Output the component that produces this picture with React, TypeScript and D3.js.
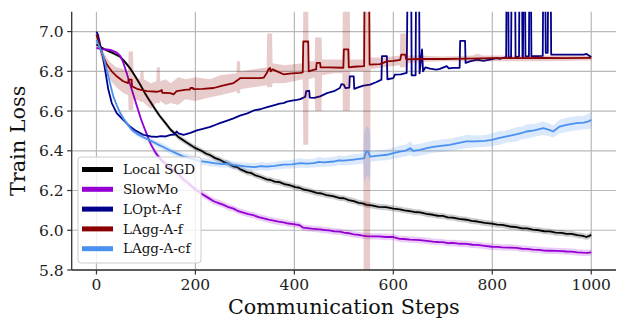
import React from 'react';
import * as d3 from 'd3';

const W = 617;
const H = 320;
const PLOT = { left: 71.7, right: 616, top: 11.7, bottom: 270 };

const xTicks = [0, 200, 400, 600, 800, 1000];
const yTicks = [5.8, 6.0, 6.2, 6.4, 6.6, 6.8, 7.0];
const xLabel = 'Communication Steps';
const yLabel = 'Train Loss';

const seriesNames = ['Local SGD', 'SlowMo', 'LOpt-A-f', 'LAgg-A-f', 'LAgg-A-cf'];
const seriesColors = ['#000000', '#9400d3', '#00008b', '#8b0000', '#4a90ee'];

// [step, mean loss, spread]
const localSgd: [number, number, number][] = [
  [0, 6.935, 0.006], [10, 6.92, 0.006], [21, 6.905, 0.007], [35, 6.89, 0.008], [48, 6.873, 0.009],
  [58, 6.846, 0.01], [68, 6.815, 0.01], [78, 6.776, 0.011], [88, 6.735, 0.012], [98, 6.69, 0.012],
  [108, 6.65, 0.012], [118, 6.612, 0.013], [128, 6.575, 0.013], [140, 6.538, 0.013], [150, 6.506, 0.013],
  [165, 6.471, 0.014], [183, 6.44, 0.014], [198, 6.416, 0.014], [212, 6.4, 0.014], [222, 6.385, 0.014],
  [230, 6.378, 0.014], [240, 6.363, 0.014], [250, 6.354, 0.015], [258, 6.343, 0.015], [265, 6.337, 0.015],
  [276, 6.322, 0.015], [284, 6.318, 0.015], [290, 6.308, 0.015], [298, 6.299, 0.015], [305, 6.291, 0.015],
  [312, 6.289, 0.015], [320, 6.278, 0.015], [332, 6.268, 0.015], [344, 6.256, 0.015], [352, 6.253, 0.015],
  [360, 6.245, 0.015], [370, 6.242, 0.015], [380, 6.232, 0.015], [390, 6.227, 0.015], [402, 6.217, 0.015],
  [410, 6.214, 0.015], [420, 6.204, 0.015], [432, 6.198, 0.015], [445, 6.188, 0.015], [455, 6.185, 0.015],
  [465, 6.177, 0.015], [478, 6.172, 0.015], [492, 6.162, 0.015], [500, 6.161, 0.015], [510, 6.152, 0.015],
  [520, 6.147, 0.015], [530, 6.138, 0.015], [538, 6.135, 0.015], [546, 6.128, 0.015], [556, 6.125, 0.015],
  [570, 6.118, 0.015], [585, 6.116, 0.015], [600, 6.109, 0.015], [613, 6.105, 0.015], [622, 6.1, 0.015],
  [630, 6.098, 0.015], [642, 6.092, 0.015], [654, 6.09, 0.015], [667, 6.082, 0.015], [680, 6.078, 0.015],
  [690, 6.073, 0.015], [700, 6.072, 0.015], [710, 6.065, 0.015], [720, 6.064, 0.015], [733, 6.057, 0.015],
  [748, 6.053, 0.015], [758, 6.047, 0.015], [770, 6.044, 0.015], [785, 6.037, 0.015], [799, 6.033, 0.015],
  [810, 6.028, 0.015], [820, 6.027, 0.015], [835, 6.019, 0.015], [849, 6.016, 0.015], [860, 6.01, 0.015],
  [870, 6.009, 0.015], [882, 6.003, 0.015], [895, 6.0, 0.015], [905, 5.995, 0.015], [916, 5.994, 0.015],
  [928, 5.988, 0.015], [940, 5.987, 0.015], [950, 5.982, 0.015], [960, 5.982, 0.015], [972, 5.975, 0.015],
  [983, 5.972, 0.015], [990, 5.966, 0.015], [995, 5.97, 0.015], [1000, 5.977, 0.015],
];

const slowMo: [number, number, number][] = [
  [0, 6.918, 0.006], [10, 6.912, 0.006], [20, 6.91, 0.006], [30, 6.906, 0.007], [40, 6.896, 0.008],
  [48, 6.878, 0.009], [54, 6.846, 0.01], [60, 6.8, 0.011], [68, 6.735, 0.012], [75, 6.68, 0.012],
  [82, 6.623, 0.013], [90, 6.56, 0.013], [96, 6.52, 0.014], [103, 6.475, 0.014], [110, 6.432, 0.015],
  [120, 6.388, 0.015], [130, 6.356, 0.016], [143, 6.326, 0.016], [156, 6.302, 0.016], [166, 6.283, 0.016],
  [175, 6.257, 0.016], [186, 6.236, 0.016], [196, 6.213, 0.016], [205, 6.198, 0.016], [215, 6.18, 0.016],
  [226, 6.163, 0.016], [237, 6.146, 0.016], [247, 6.137, 0.016], [257, 6.128, 0.016], [267, 6.116, 0.016],
  [277, 6.109, 0.016], [287, 6.096, 0.016], [297, 6.089, 0.016], [307, 6.081, 0.016], [317, 6.076, 0.016],
  [328, 6.066, 0.016], [338, 6.06, 0.016], [348, 6.053, 0.016], [358, 6.048, 0.016], [368, 6.043, 0.016],
  [378, 6.04, 0.016], [388, 6.034, 0.016], [398, 6.031, 0.016], [410, 6.026, 0.016], [418, 6.013, 0.016],
  [426, 6.011, 0.016], [435, 6.008, 0.016], [445, 6.006, 0.016], [452, 6.004, 0.016], [462, 6.001, 0.016],
  [470, 5.999, 0.016], [481, 5.994, 0.016], [492, 5.993, 0.016], [500, 5.988, 0.016], [510, 5.985, 0.016],
  [520, 5.979, 0.016], [530, 5.977, 0.016], [538, 5.973, 0.016], [546, 5.971, 0.016], [558, 5.969, 0.016],
  [570, 5.969, 0.016], [585, 5.966, 0.016], [600, 5.966, 0.016], [613, 5.957, 0.016], [622, 5.956, 0.016],
  [634, 5.953, 0.016], [645, 5.952, 0.016], [654, 5.95, 0.016], [667, 5.947, 0.016], [680, 5.943, 0.016],
  [690, 5.941, 0.016], [700, 5.94, 0.016], [710, 5.935, 0.016], [720, 5.936, 0.016], [735, 5.932, 0.016],
  [748, 5.931, 0.016], [760, 5.927, 0.016], [770, 5.926, 0.016], [785, 5.921, 0.016], [799, 5.917, 0.016],
  [810, 5.916, 0.016], [820, 5.914, 0.016], [835, 5.913, 0.016], [849, 5.911, 0.016], [860, 5.907, 0.016],
  [870, 5.906, 0.016], [882, 5.903, 0.016], [895, 5.901, 0.016], [905, 5.898, 0.016], [916, 5.897, 0.016],
  [928, 5.896, 0.016], [940, 5.895, 0.016], [950, 5.893, 0.016], [960, 5.892, 0.016], [972, 5.889, 0.016],
  [983, 5.887, 0.016], [992, 5.886, 0.016], [1000, 5.889, 0.016],
];

// [step, loss]
const lOptAf: [number, number][] = [
  [0, 7.0], [3, 6.985], [8, 6.93], [14, 6.86], [18, 6.8], [24, 6.708], [31, 6.64], [41, 6.59], [54, 6.556],
  [68, 6.522], [80, 6.5], [95, 6.48], [110, 6.472], [122, 6.47], [130, 6.474], [140, 6.472], [150, 6.48],
  [158, 6.482], [162, 6.497], [166, 6.488], [176, 6.48], [190, 6.49], [203, 6.503], [215, 6.51], [230, 6.52],
  [245, 6.535], [260, 6.548], [277, 6.563], [290, 6.577], [305, 6.588], [318, 6.603], [331, 6.609],
  [345, 6.62], [360, 6.63], [370, 6.637], [378, 6.64], [385, 6.647], [395, 6.652], [405, 6.656], [412, 6.66],
  [422, 6.672], [424, 6.7], [430, 6.702], [431, 6.668], [440, 6.666], [452, 6.674], [466, 6.69], [480, 6.7],
  [492, 6.716], [495, 6.735], [500, 6.733], [503, 6.716], [511, 6.718], [512, 6.775], [520, 6.775],
  [521, 6.712], [530, 6.72], [540, 6.728], [553, 6.733], [565, 6.745], [576, 6.758], [577, 6.876],
  [587, 6.876], [588, 6.76], [600, 6.766], [603, 6.783], [615, 6.785], [627, 6.792], [629, 7.3], [636, 7.3],
  [637, 6.78], [645, 6.78], [646, 7.3], [652, 7.3], [653, 6.79], [658, 6.91], [660, 6.8], [665, 6.82],
  [674, 6.813], [687, 6.808], [694, 6.812], [708, 6.826], [712, 6.815], [721, 6.817], [734, 6.818],
  [735, 6.953], [745, 6.953], [746, 6.842], [755, 6.85], [769, 6.859], [782, 6.852], [795, 6.859],
  [809, 6.866], [815, 6.862], [828, 6.872], [829, 7.3], [832, 7.3], [833, 6.87], [838, 6.87], [839, 7.3],
  [846, 7.3], [847, 6.87], [854, 6.874], [855, 7.3], [860, 7.3], [861, 6.872], [862, 6.872], [863, 7.3],
  [866, 7.3], [867, 6.875], [874, 6.876], [875, 7.3], [878, 7.3], [879, 6.877], [890, 6.876], [902, 6.878],
  [903, 7.3], [907, 7.3], [908, 6.893], [912, 6.893], [913, 7.3], [918, 7.3], [919, 6.884], [950, 6.884],
  [985, 6.884], [990, 6.888], [995, 6.88], [1000, 6.872],
];

const lAggAf: [number, number][] = [
  [0, 6.985], [3, 6.96], [11, 6.89], [21, 6.834], [31, 6.8], [41, 6.775], [54, 6.75], [64, 6.741],
  [65, 6.758], [71, 6.758], [72, 6.724], [82, 6.712], [88, 6.708], [102, 6.7], [122, 6.697], [128, 6.7],
  [132, 6.706], [133, 6.692], [149, 6.69], [156, 6.684], [162, 6.7], [182, 6.708], [189, 6.708],
  [190, 6.716], [195, 6.716], [196, 6.71], [215, 6.712], [237, 6.716], [255, 6.728], [277, 6.741],
  [285, 6.755], [291, 6.766], [331, 6.766], [338, 6.768], [344, 6.79], [348, 6.812], [351, 6.817],
  [352, 6.8], [356, 6.81], [365, 6.8], [378, 6.785], [395, 6.79], [412, 6.792], [417, 6.795], [418, 6.95],
  [428, 6.95], [429, 6.8], [440, 6.808], [444, 6.81], [445, 6.842], [452, 6.842], [453, 6.82], [470, 6.82],
  [499, 6.818], [500, 6.91], [509, 6.91], [510, 6.82], [520, 6.823], [541, 6.826], [542, 7.3], [551, 7.3],
  [552, 6.834], [573, 6.836], [587, 6.85], [600, 6.852], [614, 6.858], [616, 6.884], [624, 6.884],
  [626, 6.86], [654, 6.862], [700, 6.862], [750, 6.864], [800, 6.866], [850, 6.866], [900, 6.867],
  [950, 6.866], [1000, 6.868],
];

// [step, low, high]
const lAggAfBand: [number, number, number][] = [
  [0, 6.975, 6.995], [10, 6.86, 6.92], [20, 6.79, 6.87], [30, 6.75, 6.84], [40, 6.72, 6.82], [55, 6.69, 6.81],
  [64, 6.68, 6.8], [65, 6.605, 6.9], [74, 6.605, 6.9], [75, 6.66, 6.78], [88, 6.65, 6.76], [89, 6.645, 6.8],
  [95, 6.645, 6.8], [96, 6.64, 6.76], [110, 6.61, 6.74], [121, 6.64, 6.75], [122, 6.64, 6.82],
  [128, 6.64, 6.82], [129, 6.65, 6.75], [140, 6.63, 6.76], [150, 6.64, 6.74], [165, 6.63, 6.77],
  [180, 6.66, 6.76], [200, 6.65, 6.77], [230, 6.67, 6.76], [250, 6.68, 6.78], [283, 6.7, 6.79],
  [284, 6.69, 6.85], [290, 6.69, 6.85], [291, 6.71, 6.8], [344, 6.73, 6.82], [345, 6.72, 6.99],
  [355, 6.72, 6.99], [356, 6.74, 6.84], [380, 6.74, 6.83], [417, 6.76, 6.84], [418, 6.43, 7.15],
  [428, 6.43, 7.15], [429, 6.76, 6.85], [441, 6.77, 6.85], [442, 6.6, 6.97], [455, 6.6, 6.97],
  [456, 6.78, 6.86], [480, 6.79, 6.86], [497, 6.79, 6.86], [498, 6.6, 7.15], [512, 6.6, 7.15],
  [513, 6.8, 6.86], [539, 6.8, 6.86], [540, 5.75, 7.15], [553, 5.75, 7.15], [554, 6.81, 6.87],
  [580, 6.82, 6.87], [613, 6.83, 6.88], [614, 6.82, 6.99], [628, 6.82, 6.99], [629, 6.84, 6.88],
  [650, 6.845, 6.88], [700, 6.85, 6.875], [760, 6.85, 6.88], [770, 6.845, 6.89], [780, 6.85, 6.88],
  [800, 6.85, 6.88], [900, 6.85, 6.88], [1000, 6.855, 6.88],
];

const lAggAcf: [number, number, number][] = [
  [0, 6.958, 0.005], [4, 6.935, 0.006], [14, 6.876, 0.008], [24, 6.775, 0.01], [34, 6.674, 0.01],
  [41, 6.63, 0.011], [48, 6.59, 0.011], [55, 6.56, 0.012], [61, 6.54, 0.012], [71, 6.506, 0.012],
  [82, 6.485, 0.013], [95, 6.468, 0.014], [109, 6.452, 0.015], [122, 6.435, 0.016], [136, 6.418, 0.017],
  [150, 6.4, 0.017], [163, 6.386, 0.017], [175, 6.372, 0.017], [190, 6.362, 0.018], [210, 6.348, 0.018],
  [225, 6.343, 0.018], [237, 6.338, 0.018], [255, 6.333, 0.018], [265, 6.336, 0.02], [277, 6.328, 0.018],
  [290, 6.325, 0.018], [300, 6.322, 0.019], [320, 6.318, 0.019], [332, 6.323, 0.02], [344, 6.32, 0.02],
  [360, 6.324, 0.02], [378, 6.33, 0.021], [395, 6.332, 0.021], [412, 6.338, 0.024], [425, 6.335, 0.022],
  [439, 6.338, 0.022], [450, 6.344, 0.026], [460, 6.342, 0.022], [479, 6.346, 0.024], [490, 6.352, 0.024],
  [500, 6.35, 0.024], [520, 6.356, 0.026], [539, 6.362, 0.026], [541, 6.362, 0.125], [545, 6.396, 0.125],
  [549, 6.396, 0.125], [553, 6.371, 0.125], [554, 6.371, 0.026], [570, 6.376, 0.026], [587, 6.38, 0.028],
  [600, 6.388, 0.028], [613, 6.396, 0.03], [625, 6.401, 0.03], [634, 6.413, 0.036], [640, 6.4, 0.03],
  [654, 6.405, 0.03], [670, 6.415, 0.03], [681, 6.42, 0.03], [700, 6.426, 0.032], [714, 6.43, 0.03],
  [730, 6.438, 0.032], [748, 6.447, 0.034], [765, 6.447, 0.03], [785, 6.45, 0.03], [799, 6.455, 0.032],
  [815, 6.465, 0.034], [829, 6.472, 0.03], [848, 6.482, 0.036], [860, 6.49, 0.032], [869, 6.497, 0.036],
  [885, 6.503, 0.032], [903, 6.514, 0.034], [915, 6.505, 0.032], [923, 6.497, 0.03], [936, 6.522, 0.034],
  [950, 6.53, 0.036], [970, 6.539, 0.036], [985, 6.542, 0.034], [995, 6.548, 0.04], [1000, 6.556, 0.04],
];

const FONT = "'DejaVu Serif', serif";

export default function App() {
  const x = d3.scaleLinear().domain([-50, 1050]).range([PLOT.left, PLOT.right]);
  const y = d3.scaleLinear().domain([5.8, 7.1]).range([PLOT.bottom, PLOT.top]);

  const meanLine = d3.line<[number, number, number]>().x((d) => x(d[0])).y((d) => y(d[1]));
  const plainLine = d3.line<[number, number]>().x((d) => x(d[0])).y((d) => y(d[1]));
  const spreadArea = d3
    .area<[number, number, number]>()
    .x((d) => x(d[0]))
    .y0((d) => y(d[1] - d[2]))
    .y1((d) => y(d[1] + d[2]));
  const rangeArea = d3
    .area<[number, number, number]>()
    .x((d) => x(d[0]))
    .y0((d) => y(d[1]))
    .y1((d) => y(d[2]));

  const lw = 1.8;
  const bandOpacity = 0.2;

  return (
    <svg
      width={W}
      height={H}
      style={{ position: 'absolute', left: 0, top: 0, background: '#fff' }}
      fontFamily={FONT}
    >
      <defs>
        <clipPath id="plot-clip">
          <rect x={PLOT.left} y={PLOT.top} width={PLOT.right - PLOT.left} height={PLOT.bottom - PLOT.top} />
        </clipPath>
      </defs>

      {/* grid */}
      <g stroke="#b8b8b8" strokeWidth={1.2}>
        {xTicks.map((t) => (
          <line key={`gx${t}`} x1={x(t)} x2={x(t)} y1={PLOT.top} y2={PLOT.bottom} />
        ))}
        {yTicks.map((t) => (
          <line key={`gy${t}`} x1={PLOT.left} x2={PLOT.right} y1={y(t)} y2={y(t)} />
        ))}
      </g>

      <g clipPath="url(#plot-clip)" fill="none" strokeLinejoin="round">
        <path d={spreadArea(localSgd) ?? ''} fill={seriesColors[0]} fillOpacity={bandOpacity} stroke="none" />
        <path d={meanLine(localSgd) ?? ''} stroke={seriesColors[0]} strokeWidth={lw} />

        <path d={spreadArea(slowMo) ?? ''} fill={seriesColors[1]} fillOpacity={bandOpacity} stroke="none" />
        <path d={meanLine(slowMo) ?? ''} stroke={seriesColors[1]} strokeWidth={lw} />

        <path d={plainLine(lOptAf) ?? ''} stroke={seriesColors[2]} strokeWidth={lw} />

        <path d={rangeArea(lAggAfBand) ?? ''} fill={seriesColors[3]} fillOpacity={bandOpacity} stroke="none" />
        <path d={plainLine(lAggAf) ?? ''} stroke={seriesColors[3]} strokeWidth={lw} />

        <path d={spreadArea(lAggAcf) ?? ''} fill={seriesColors[4]} fillOpacity={bandOpacity} stroke="none" />
        <path d={meanLine(lAggAcf) ?? ''} stroke={seriesColors[4]} strokeWidth={lw} />
      </g>

      {/* spines */}
      <g stroke="#333" strokeWidth={1.3}>
        <line x1={PLOT.left} x2={PLOT.left} y1={PLOT.top} y2={PLOT.bottom} />
        <line x1={PLOT.left} x2={PLOT.right} y1={PLOT.bottom} y2={PLOT.bottom} />
      </g>

      {/* x axis */}
      <g fontSize={15.5} fill="#222" textAnchor="middle">
        {xTicks.map((t) => (
          <g key={`tx${t}`}>
            <line x1={x(t)} x2={x(t)} y1={PLOT.bottom} y2={PLOT.bottom + 4.5} stroke="#333" strokeWidth={1.2} />
            <text x={x(t)} y={PLOT.bottom + 20}>
              {t}
            </text>
          </g>
        ))}
      </g>

      {/* y axis */}
      <g fontSize={15.5} fill="#222" textAnchor="end">
        {yTicks.map((t) => (
          <g key={`ty${t}`}>
            <line x1={PLOT.left - 4.5} x2={PLOT.left} y1={y(t)} y2={y(t)} stroke="#333" strokeWidth={1.2} />
            <text x={PLOT.left - 8} y={y(t)} dy="0.36em">
              {t.toFixed(1)}
            </text>
          </g>
        ))}
      </g>

      <text x={(PLOT.left + PLOT.right) / 2} y={313.5} fontSize={20.8} textAnchor="middle" fill="#111">
        {xLabel}
      </text>
      <text
        transform={`translate(24.5, ${(PLOT.top + PLOT.bottom) / 2}) rotate(-90)`}
        fontSize={20.8}
        textAnchor="middle"
        fill="#111"
      >
        {yLabel}
      </text>

      {/* legend */}
      <g>
        <rect x={78} y={157} width={123} height={106} rx={3} fill="#fff" fillOpacity={0.8} stroke="#ccc" strokeWidth={1} />
        {seriesNames.map((name, i) => {
          const cy = 169.5 + i * 19.8;
          return (
            <g key={name}>
              <line x1={82} x2={113} y1={cy} y2={cy} stroke={seriesColors[i]} strokeWidth={5} />
              <text x={123} y={cy} dy="0.35em" fontSize={13.5} fill="#111">
                {name}
              </text>
            </g>
          );
        })}
      </g>
    </svg>
  );
}
